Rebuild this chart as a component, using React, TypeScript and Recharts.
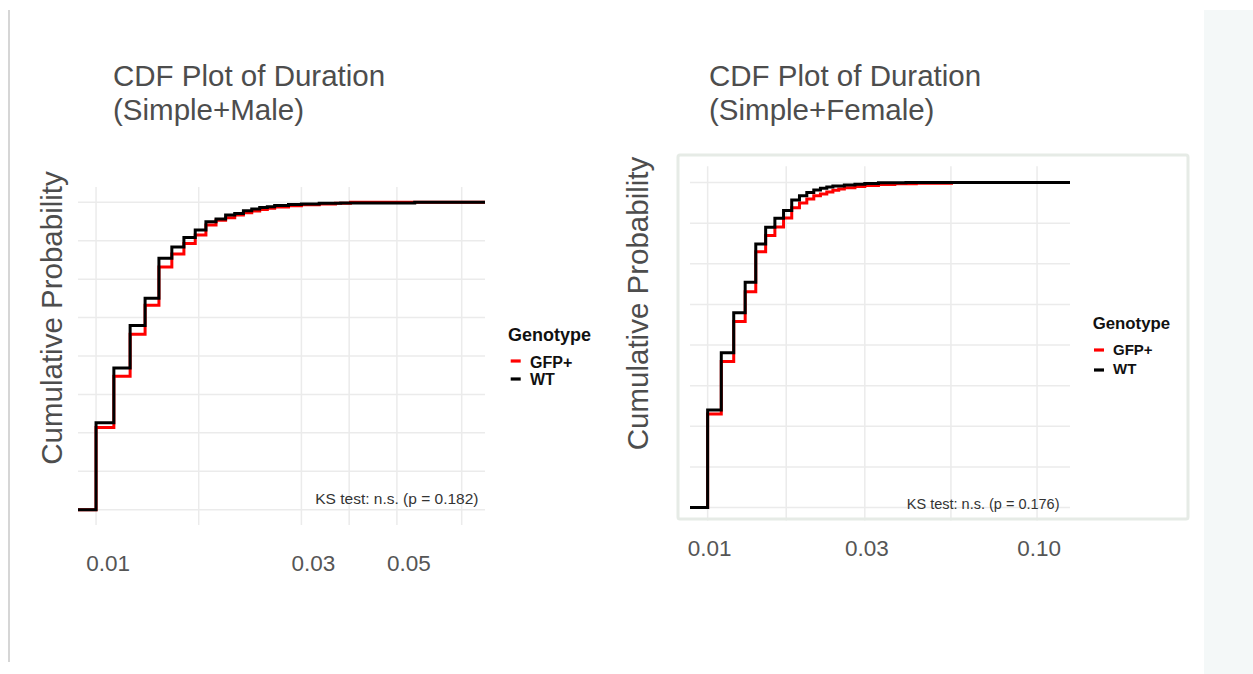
import React from "react";
import { LineChart, Line, XAxis, YAxis, CartesianGrid, Legend } from "recharts";

const FONT = '"Liberation Sans", Arial, Helvetica, sans-serif';
const RED = "#ff0000";
const BLACK = "#000000";
const GRID = "#ebebeb";
const TEXT_GREY = "#4d4d4d";

// y gridlines (major + minor)
const probGrid = [0, 0.125, 0.25, 0.375, 0.5, 0.625, 0.75, 0.875, 1];

// Simple + Male
const maleXDomain = [0.00908, 0.0801];
const maleTicks = [0.01, 0.03, 0.05];
const maleGridX = [0.01, 0.01732, 0.03, 0.03873, 0.05, 0.07071];
const maleWtDuration = [0.01, 0.011, 0.012, 0.013, 0.014, 0.015, 0.016, 0.017, 0.018, 0.019, 0.02, 0.021, 0.022, 0.023, 0.024, 0.025, 0.026, 0.028, 0.03, 0.033, 0.037, 0.041, 0.055];
const maleWtProb = [0.283, 0.461, 0.599, 0.688, 0.818, 0.855, 0.886, 0.91, 0.937, 0.946, 0.959, 0.964, 0.973, 0.978, 0.983, 0.986, 0.99, 0.993, 0.995, 0.997, 0.998, 0.998, 1];
const maleGfpDuration = [0.01, 0.011, 0.012, 0.013, 0.014, 0.015, 0.016, 0.017, 0.018, 0.019, 0.02, 0.021, 0.022, 0.023, 0.024, 0.025, 0.026, 0.028, 0.03, 0.033, 0.036, 0.039];
const maleGfpProb = [0.267, 0.434, 0.571, 0.665, 0.79, 0.832, 0.866, 0.894, 0.926, 0.942, 0.95, 0.959, 0.966, 0.972, 0.977, 0.981, 0.985, 0.989, 0.992, 0.995, 0.997, 1];

// Simple + Female
const femaleXDomain = [0.00884, 0.1259];
const femaleTicks = [0.01, 0.03, 0.1];
const femaleGridX = [0.01, 0.01732, 0.03, 0.05477, 0.1];
const femaleWtDuration = [0.01, 0.011, 0.012, 0.013, 0.014, 0.015, 0.016, 0.017, 0.018, 0.019, 0.02, 0.021, 0.022, 0.023, 0.024, 0.026, 0.028, 0.03, 0.033, 0.04];
const femaleWtProb = [0.3, 0.476, 0.599, 0.693, 0.811, 0.862, 0.89, 0.914, 0.946, 0.959, 0.969, 0.977, 0.982, 0.986, 0.989, 0.992, 0.995, 0.997, 0.999, 1];
const femaleGfpDuration = [0.01, 0.011, 0.012, 0.013, 0.014, 0.015, 0.016, 0.017, 0.018, 0.019, 0.02, 0.021, 0.022, 0.023, 0.024, 0.025, 0.026, 0.028, 0.03, 0.033, 0.037, 0.043, 0.055];
const femaleGfpProb = [0.288, 0.449, 0.572, 0.664, 0.787, 0.837, 0.863, 0.891, 0.922, 0.937, 0.949, 0.959, 0.965, 0.971, 0.976, 0.98, 0.984, 0.988, 0.991, 0.994, 0.996, 0.998, 1];

// ecdf with padding to both ends of the axis
function ecdf(xs: number[], ys: number[], domain: number[]) {
  return [{ x: domain[0], y: 0 }, ...xs.map((x, i) => ({ x, y: ys[i] })), { x: domain[1], y: 1 }];
}

function XTick(props: any) {
  const { x, y, payload, shift, size } = props;
  return (
    <text x={x + shift} y={y} dy="0.71em" textAnchor="middle" fill="#555" fontSize={size} fontFamily={FONT}>
      {Number(payload.value).toFixed(2)}
    </text>
  );
}

function GenotypeLegend(props: any) {
  const { payload, cfg } = props;
  return (
    <svg width={110} height={80} style={{ overflow: "visible", display: "block" }}>
      <text x={cfg.titleX} y={cfg.titleBase} fontSize={cfg.titleSize} fontWeight="bold" fontFamily={FONT} fill="#111">
        Genotype
      </text>
      {(payload || []).map((e: any, i: number) => (
        <g key={e.value}>
          <line x1={cfg.dashX[0]} x2={cfg.dashX[1]} y1={cfg.dashY[i]} y2={cfg.dashY[i]} stroke={e.color} strokeWidth={3.2} />
          <text x={cfg.textX} y={cfg.textBase[i]} fontSize={cfg.itemSize} fontWeight="bold" fontFamily={FONT} fill="#111">
            {e.value}
          </text>
        </g>
      ))}
    </svg>
  );
}

function CdfPanel(props: any) {
  const { left, width, height, margin, xDomain, ticks, gridX, wt, gfp, tickMargin, tickShift, tickSize, legendPos, legendCfg } = props;
  return (
    <div style={{ position: "absolute", left, top: 0, width, height }}>
      <LineChart width={width} height={height} margin={margin}>
        <CartesianGrid stroke={GRID} strokeWidth={1.5} horizontalValues={probGrid} verticalValues={gridX} />
        <XAxis
          dataKey="x"
          type="number"
          scale="log"
          domain={xDomain}
          allowDataOverflow
          ticks={ticks}
          interval={0}
          height={40}
          axisLine={false}
          tickLine={false}
          tickSize={0}
          tickMargin={tickMargin}
          tick={(p: any) => <XTick {...p} shift={tickShift} size={tickSize} />}
        />
        <YAxis type="number" domain={[-0.05, 1.05]} allowDataOverflow hide />
        <Legend
          layout="vertical"
          align="center"
          verticalAlign="middle"
          wrapperStyle={{ left: legendPos[0], top: legendPos[1], width: 110, height: 80 }}
          content={(p: any) => <GenotypeLegend payload={p.payload} cfg={legendCfg} />}
        />
        <Line data={gfp} dataKey="y" name="GFP+" type="stepAfter" stroke={RED} strokeWidth={3} dot={false} isAnimationActive={false} />
        <Line data={wt} dataKey="y" name="WT" type="stepAfter" stroke={BLACK} strokeWidth={3} dot={false} isAnimationActive={false} />
      </LineChart>
    </div>
  );
}

export default function App() {
  const maleWt = ecdf(maleWtDuration, maleWtProb, maleXDomain);
  const maleGfp = ecdf(maleGfpDuration, maleGfpProb, maleXDomain);
  const femaleWt = ecdf(femaleWtDuration, femaleWtProb, femaleXDomain);
  const femaleGfp = ecdf(femaleGfpDuration, femaleGfpProb, femaleXDomain);

  return (
    <div style={{ position: "absolute", left: 0, top: 0, width: 1253, height: 674, background: "#fff", overflow: "hidden" }}>
      <CdfPanel
        left={0}
        width={500}
        height={600}
        margin={{ top: 187, right: 15, bottom: 35, left: 78 }}
        xDomain={maleXDomain}
        ticks={maleTicks}
        gridX={maleGridX}
        wt={maleWt}
        gfp={maleGfp}
        tickMargin={30}
        tickShift={12}
        tickSize={22.5}
        legendPos={[505, 320]}
        legendCfg={{ titleX: 3, titleBase: 21, titleSize: 18, dashX: [5.7, 15.7], dashY: [41, 59], textX: 25, textBase: [48, 65], itemSize: 16 }}
      />
      <CdfPanel
        left={600}
        width={604}
        height={600}
        margin={{ top: 166.25, right: 134, bottom: 36.25, left: 90 }}
        xDomain={femaleXDomain}
        ticks={femaleTicks}
        gridX={femaleGridX}
        wt={femaleWt}
        gfp={femaleGfp}
        tickMargin={16.25}
        tickShift={2}
        tickSize={22.5}
        legendPos={[490, 310]}
        legendCfg={{ titleX: 2.7, titleBase: 19, titleSize: 16.8, dashX: [4, 14], dashY: [40, 60], textX: 23, textBase: [45, 64], itemSize: 15 }}
      />

      {/* titles, axis titles, annotations, frame */}
      <svg width={1253} height={674} style={{ position: "absolute", left: 0, top: 0, pointerEvents: "none" }}>
        <rect x={8} y={10} width={2} height={652} fill="#d6d6d6" />
        <rect x={1204} y={10} width={49} height={664} fill="#f4f8f8" />
        <rect x={684} y={520.5} width={392} height={6} fill="#fff" />
        <rect x={678} y={155} width={510} height={364} fill="none" stroke="#e6ebe6" strokeWidth={3} rx={2} />

        <g fontFamily={FONT} fill={TEXT_GREY} fontSize={29.5}>
          <text x={113} y={86}>CDF Plot of Duration</text>
          <text x={113} y={119.5}>(Simple+Male)</text>
          <text x={709} y={86}>CDF Plot of Duration</text>
          <text x={709} y={119.5}>(Simple+Female)</text>
          <text transform="translate(62,318) rotate(-90)" textAnchor="middle">Cumulative Probability</text>
          <text transform="translate(648,303.5) rotate(-90)" textAnchor="middle">Cumulative Probability</text>
        </g>
        <g fontFamily={FONT} fill="#333">
          <text x={478.5} y={503.5} fontSize={15.5} textAnchor="end">KS test: n.s. (p = 0.182)</text>
          <text x={1059.5} y={509} fontSize={14.5} textAnchor="end">KS test: n.s. (p = 0.176)</text>
        </g>
      </svg>
    </div>
  );
}
